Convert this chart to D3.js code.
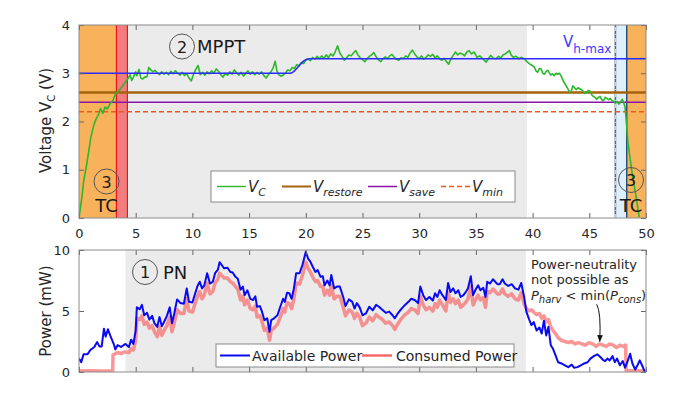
<!DOCTYPE html>
<html>
<head>
  <meta charset="utf-8">
  <script src="https://cdn.jsdelivr.net/npm/d3@7"></script>
  <style>
    body { margin: 0; background: #fff; font-family: 'DejaVu Sans', sans-serif; }
    .tick text { fill: #262626; font-size: 13px; font-family: 'DejaVu Sans', sans-serif; }
    .tick line { stroke: #666; }
    .box { fill: none; stroke: #8a8a8a; stroke-width: 1; }
    .ylabel { font-size: 15px; fill: #262626; text-anchor: middle; }
    .tag { font-size: 18px; fill: #1a1a1a; }
    .tagnum { font-size: 16px; fill: #1a1a1a; text-anchor: middle; }
    .tagring { fill: none; stroke: #555; stroke-width: 1; }
    .legend-box { fill: #fff; stroke: #8a8a8a; }
    .legtext { font-size: 14px; fill: #262626; }
  </style>
</head>
<body>
<script>
// time axis ticks (both panels) and y ticks
var xTicks = [0, 5, 10, 15, 20, 25, 30, 35, 40, 45, 50]
var vTicks = [0, 1, 2, 3, 4]
var pTicks = [0, 5, 10]

// thresholds (V)
var vRestore = 2.6
var vSave = 2.4
var vMin = 2.2

// V_h-max trajectory [t, V]
var hmaxData = [[0, 3], [18.6, 3], [18.9, 3.03], [19.2, 3.1], [19.5, 3.18], [19.8, 3.25], [20.1, 3.29], [20.4, 3.3], [50, 3.3]]

// capacitor voltage V_C [t, V]
var vcData = [[0,0],[0.25,0.42],[0.4,0.75],[0.65,1.07],[0.85,1.37],[1.05,1.68],[1.3,1.92],[1.5,2.05],[1.75,2.16],[1.9,2.27],[2.1,2.17],[2.3,2.3],[2.5,2.26],[2.75,2.37],[3.0,2.44],[3.2,2.56],[3.4,2.61],[3.65,2.68],[3.9,2.75],[4.1,2.82],[4.3,2.88],[4.5,2.97],[4.65,2.85],[4.8,2.92],[5.0,3.03],[5.1,2.95],[5.3,3.08],[5.45,2.9],[5.6,2.88],[5.8,2.92],[6.0,2.93],[6.15,3.12],[6.3,3.08],[6.5,3.03],[6.7,3.06],[6.9,3.01],[7.1,2.97],[7.3,3.03],[7.5,2.98],[7.7,3.02],[7.9,2.97],[8.1,3.04],[8.3,2.99],[8.5,3.05],[8.7,3.0],[8.9,2.96],[9.1,3.02],[9.3,2.95],[9.5,2.99],[9.7,2.9],[9.9,2.84],[10.1,2.98],[10.3,3.08],[10.5,3.16],[10.7,2.97],[10.9,3.02],[11.1,2.96],[11.3,3.03],[11.5,2.99],[11.7,3.05],[11.9,3.0],[12.1,3.09],[12.3,3.04],[12.5,2.97],[12.7,2.92],[12.9,3.0],[13.1,2.96],[13.3,3.03],[13.5,2.98],[13.7,3.07],[13.9,3.01],[14.1,2.96],[14.3,3.02],[14.5,2.94],[14.7,3.0],[14.9,3.05],[15.1,2.98],[15.3,3.03],[15.5,2.97],[15.7,3.02],[15.9,2.98],[16.1,3.03],[16.3,2.95],[16.5,2.9],[16.7,2.97],[16.9,3.02],[17.1,3.1],[17.3,3.25],[17.45,3.05],[17.6,2.97],[17.8,2.94],[18.0,2.96],[18.2,3.0],[18.4,3.07],[18.6,3.05],[18.8,3.12],[19.0,3.1],[19.2,3.18],[19.4,3.15],[19.6,3.22],[19.8,3.2],[20.0,3.27],[20.2,3.3],[20.4,3.26],[20.6,3.33],[20.8,3.29],[21.0,3.35],[21.2,3.3],[21.4,3.36],[21.6,3.31],[21.8,3.38],[22.0,3.33],[22.2,3.4],[22.4,3.36],[22.6,3.45],[22.8,3.57],[23.0,3.42],[23.2,3.35],[23.4,3.27],[23.6,3.32],[23.8,3.38],[24.0,3.36],[24.2,3.42],[24.4,3.47],[24.6,3.38],[24.8,3.32],[25.0,3.28],[25.2,3.24],[25.4,3.3],[25.6,3.35],[25.8,3.38],[26.0,3.43],[26.2,3.34],[26.4,3.28],[26.6,3.24],[26.8,3.3],[27.0,3.34],[27.2,3.3],[27.4,3.36],[27.6,3.39],[27.8,3.33],[28.0,3.29],[28.2,3.27],[28.4,3.32],[28.6,3.3],[28.8,3.36],[29.0,3.33],[29.2,3.42],[29.4,3.48],[29.6,3.4],[29.8,3.34],[30.0,3.3],[30.2,3.36],[30.4,3.29],[30.6,3.33],[30.8,3.38],[31.0,3.35],[31.2,3.39],[31.4,3.32],[31.6,3.36],[31.8,3.3],[32.0,3.27],[32.2,3.31],[32.4,3.24],[32.6,3.19],[32.8,3.3],[33.0,3.37],[33.2,3.44],[33.4,3.38],[33.6,3.42],[33.8,3.4],[34.0,3.36],[34.2,3.44],[34.4,3.47],[34.6,3.4],[34.85,3.44],[35.1,3.33],[35.35,3.36],[35.6,3.3],[35.9,3.23],[36.1,3.3],[36.3,3.37],[36.55,3.31],[36.75,3.3],[37.0,3.35],[37.2,3.32],[37.4,3.38],[37.65,3.41],[37.95,3.47],[38.1,3.38],[38.3,3.33],[38.55,3.35],[38.8,3.3],[39.0,3.33],[39.25,3.3],[39.5,3.24],[39.7,3.2],[39.95,3.16],[40.15,3.13],[40.3,3.05],[40.45,3.02],[40.6,3.1],[40.75,3.09],[40.9,3.0],[41.05,2.98],[41.2,3.04],[41.35,3.06],[41.6,2.96],[41.75,2.99],[41.9,2.95],[42.05,3.0],[42.2,2.98],[42.35,3.0],[42.5,2.95],[42.7,2.84],[42.85,2.78],[43.0,2.72],[43.15,2.66],[43.3,2.6],[43.4,2.62],[43.55,2.74],[43.7,2.7],[43.85,2.66],[44.0,2.7],[44.15,2.68],[44.3,2.66],[44.45,2.63],[44.6,2.58],[44.75,2.6],[44.9,2.64],[45.05,2.63],[45.2,2.56],[45.35,2.52],[45.5,2.5],[45.65,2.46],[45.8,2.5],[45.95,2.52],[46.1,2.45],[46.25,2.43],[46.4,2.5],[46.55,2.48],[46.7,2.45],[46.85,2.48],[47.0,2.43],[47.15,2.42],[47.3,2.38],[47.45,2.41],[47.6,2.36],[47.75,2.4],[47.9,2.46],[48.05,2.38],[48.15,2.3],[48.22,2.13],[48.3,1.9],[48.4,1.58],[48.6,1.23],[48.8,0.89],[49.1,0.48],[49.4,0.02]]

// available (harvested) power [t, mW]
var availPower = [[0,1.1],[0.2,0.8],[0.4,1.45],[0.75,1.45],[1.0,1.8],[1.35,2.05],[1.6,2.45],[1.8,2.1],[2.0,2.1],[2.2,3.55],[2.35,2.9],[2.55,3.5],[2.75,3.0],[3.1,2.2],[3.2,1.85],[3.4,2.2],[3.7,2.05],[4.1,2.3],[4.4,2.05],[4.6,2.65],[4.8,2.3],[5.0,3.4],[5.1,5.3],[5.35,5.15],[5.55,5.5],[5.75,4.65],[6.0,4.85],[6.2,4.3],[6.45,4.6],[6.65,4.0],[6.9,3.7],[7.1,4.5],[7.3,3.75],[7.5,4.1],[7.75,4.6],[8.0,5.3],[8.2,4.0],[8.4,4.8],[8.65,5.95],[8.95,5.65],[9.25,5.6],[9.5,6.85],[9.7,5.75],[10.0,5.7],[10.2,6.3],[10.45,7.05],[10.65,7.4],[10.85,6.85],[11.05,7.1],[11.3,8.1],[11.55,7.25],[11.8,7.4],[12.0,8.1],[12.25,8.4],[12.4,9.0],[12.6,8.75],[12.8,8.5],[13.1,8.55],[13.35,8.2],[13.55,8.15],[13.8,7.8],[14.0,7.65],[14.25,6.75],[14.45,7.0],[14.6,6.3],[14.85,6.7],[15.1,6.0],[15.35,5.9],[15.55,6.2],[15.7,5.35],[15.95,5.4],[16.15,4.9],[16.35,4.25],[16.6,4.4],[16.8,3.3],[16.95,4.25],[17.2,4.4],[17.5,4.65],[17.75,5.35],[18.0,6.0],[18.15,5.75],[18.35,6.5],[18.55,6.45],[18.75,6.0],[18.95,6.85],[19.15,8.1],[19.45,8.1],[19.7,8.75],[20.0,9.85],[20.2,9.3],[20.4,9.05],[20.6,8.65],[20.85,8.2],[21.05,8.35],[21.3,7.8],[21.5,7.85],[21.65,7.1],[21.9,7.5],[22.1,7.1],[22.25,7.95],[22.5,6.85],[22.75,7.0],[23.0,7.0],[23.3,6.15],[23.5,5.4],[23.8,5.95],[24.1,5.75],[24.3,5.2],[24.5,5.65],[24.75,5.3],[25.0,4.65],[25.3,4.8],[25.6,5.35],[25.9,5.05],[26.2,5.5],[26.45,5.35],[26.75,5.1],[27.05,4.85],[27.35,4.95],[27.65,4.65],[27.85,4.4],[28.15,4.85],[28.45,5.2],[28.75,5.5],[29.05,5.75],[29.3,6.0],[29.6,5.9],[29.9,5.65],[30.1,7.0],[30.35,6.3],[30.6,5.9],[30.9,6.15],[31.2,5.85],[31.4,6.45],[31.6,6.15],[31.8,6.7],[32.05,6.3],[32.35,5.9],[32.55,7.3],[32.75,6.55],[33.0,6.85],[33.2,6.45],[33.45,6.7],[33.65,6.15],[33.9,6.3],[34.1,6.55],[34.3,6.85],[34.55,7.85],[34.75,6.3],[35.0,6.8],[35.2,7.1],[35.4,6.7],[35.65,6.9],[35.85,6.15],[36.0,7.4],[36.25,7.25],[36.5,7.6],[36.7,7.4],[36.9,7.2],[37.1,7.2],[37.35,7.6],[37.55,7.25],[37.85,7.05],[38.15,7.2],[38.45,6.85],[38.75,6.75],[39.0,7.3],[39.25,6.15],[39.45,4.95],[39.7,4.3],[39.9,3.85],[40.1,4.1],[40.35,3.4],[40.6,3.65],[40.8,3.15],[41.0,4.2],[41.2,3.0],[41.4,3.7],[41.6,2.2],[41.8,1.9],[42.05,1.3],[42.25,0.8],[42.55,0.7],[42.85,0.55],[43.15,0.4],[43.45,0.6],[43.65,0.35],[43.95,0.4],[44.25,0.55],[44.55,0.7],[44.85,0.8],[45.1,1.1],[45.4,1.3],[45.7,1.45],[45.95,1.25],[46.2,1.0],[46.4,0.9],[46.6,1.1],[46.8,0.95],[47.05,1.3],[47.25,0.8],[47.45,1.1],[47.7,0.55],[47.95,0.9],[48.15,0.35],[48.35,0.8],[48.6,1.5],[48.8,0.7],[49.05,0.2],[49.25,0.55],[49.45,0.95],[49.7,0.45],[49.9,0.0]]

// consumed power [t, mW]
var consPower = [[0,0.08],[1,0.1],[2,0.08],[2.97,0.1],[3.0,1.4],[3.2,1.5],[3.4,1.6],[3.7,1.5],[4.0,1.65],[4.4,1.6],[4.6,1.9],[4.8,1.8],[5.0,2.6],[5.1,4.4],[5.35,4.3],[5.55,4.6],[5.75,3.9],[6.0,4.1],[6.2,3.6],[6.45,3.8],[6.65,3.3],[6.9,2.9],[7.1,3.7],[7.3,3.0],[7.5,3.4],[7.75,3.8],[8.0,4.5],[8.2,3.3],[8.4,4.0],[8.65,5.1],[8.95,4.8],[9.25,4.8],[9.5,6.0],[9.7,5.0],[10.0,4.9],[10.2,5.5],[10.45,6.2],[10.65,6.6],[10.85,6.0],[11.05,6.3],[11.3,7.3],[11.55,6.4],[11.8,6.6],[12.0,7.3],[12.25,7.6],[12.4,8.1],[12.6,7.9],[12.8,7.7],[13.1,7.7],[13.35,7.4],[13.55,7.3],[13.8,7.0],[14.0,6.8],[14.25,5.9],[14.45,6.2],[14.6,5.5],[14.85,5.9],[15.1,5.2],[15.35,5.1],[15.55,5.4],[15.7,4.5],[15.95,4.6],[16.15,4.1],[16.35,3.4],[16.6,3.6],[16.8,2.6],[16.95,3.4],[17.2,3.6],[17.5,3.9],[17.75,4.5],[18.0,5.2],[18.15,4.9],[18.35,5.7],[18.55,5.6],[18.75,5.2],[18.95,6.0],[19.15,7.3],[19.45,7.2],[19.7,7.9],[20.0,9.0],[20.2,8.5],[20.4,8.2],[20.6,7.8],[20.85,7.4],[21.05,7.5],[21.3,7.0],[21.5,7.0],[21.65,6.3],[21.9,6.7],[22.1,6.3],[22.25,7.1],[22.5,6.0],[22.75,6.2],[23.0,6.2],[23.3,5.3],[23.5,4.6],[23.8,5.1],[24.1,4.9],[24.3,4.4],[24.5,4.8],[24.75,4.5],[25.0,3.8],[25.3,4.0],[25.6,4.5],[25.9,4.2],[26.2,4.7],[26.45,4.5],[26.75,4.3],[27.05,4.0],[27.35,4.1],[27.65,3.8],[27.85,3.5],[28.15,4.0],[28.45,4.4],[28.75,4.7],[29.05,4.9],[29.3,5.2],[29.6,5.1],[29.9,4.8],[30.1,6.2],[30.35,5.5],[30.6,5.1],[30.9,5.3],[31.2,5.0],[31.4,5.6],[31.6,5.3],[31.8,5.9],[32.05,5.5],[32.35,5.0],[32.55,6.5],[32.75,5.7],[33.0,6.0],[33.2,5.6],[33.45,5.9],[33.65,5.3],[33.9,5.5],[34.1,5.7],[34.3,6.0],[34.55,7.0],[34.75,5.5],[35.0,6.0],[35.2,6.3],[35.4,5.9],[35.65,6.1],[35.85,5.3],[36.0,6.6],[36.25,6.5],[36.5,6.8],[36.7,6.6],[36.9,6.4],[37.1,6.4],[37.35,6.8],[37.55,6.4],[37.85,6.2],[38.15,6.4],[38.45,6.0],[38.75,5.9],[39.0,6.5],[39.25,5.6],[39.45,5.2],[39.7,5.0],[39.9,5.1],[40.1,4.9],[40.35,4.7],[40.6,4.8],[40.8,4.4],[41.0,4.6],[41.2,4.1],[41.4,4.3],[41.6,3.7],[41.8,3.4],[42.05,3.1],[42.25,2.8],[42.55,2.6],[42.85,2.5],[43.15,2.4],[43.45,2.5],[43.75,2.3],[44.05,2.4],[44.35,2.3],[44.65,2.2],[44.95,2.4],[45.3,2.3],[45.6,2.1],[45.9,2.3],[46.2,2.2],[46.5,2.1],[46.8,2.3],[47.1,2.2],[47.4,2.0],[47.7,2.2],[48.0,2.1],[48.2,2.2],[48.25,0.1],[49,0.1],[50,0.08]]

// phase boundaries (t)
var tcEnd = 3.3, pnStartTop = 4.27, pnEnd = 39.5, pnStartBottom = 4.1, pnEndBottom = 39.4
var dischargeStart = 47.3, tcStart = 48.3

var width = 688, height = 396
var svg = d3.select("body").append("svg")
  .attr("width", width)
  .attr("height", height)

var x = d3.scaleLinear().domain([0, 50]).range([79, 646])
var yV = d3.scaleLinear().domain([0, 4]).range([218, 25])
var yP = d3.scaleLinear().domain([0, 10]).range([372, 250])
var intFmt = d3.format("d")

var defs = svg.append("defs")
defs.append("clipPath").attr("id", "clipTop").append("rect")
  .attr("x", x(0)).attr("y", yV(4)).attr("width", x(50) - x(0)).attr("height", yV(0) - yV(4))
defs.append("clipPath").attr("id", "clipBot").append("rect")
  .attr("x", x(0)).attr("y", yP(10)).attr("width", x(50) - x(0)).attr("height", yP(0) - yP(10))
defs.append("marker").attr("id", "arrow")
  .attr("viewBox", "0 0 10 10").attr("refX", 9).attr("refY", 5)
  .attr("markerWidth", 7).attr("markerHeight", 7).attr("orient", "auto")
  .append("path").attr("d", "M0,1 L10,5 L0,9 z").attr("fill", "#111")

// ---------- top panel ----------
var topPanel = svg.append("g")

function band(g, y, t0, t1, color) {
  g.append("rect")
    .attr("x", x(t0)).attr("y", y.range()[1])
    .attr("width", x(t1) - x(t0)).attr("height", y.range()[0] - y.range()[1])
    .attr("fill", color)
}
band(topPanel, yV, 0, tcEnd, "#f9b25c")
band(topPanel, yV, tcEnd, pnStartTop, "#f37c7c")
band(topPanel, yV, pnStartTop, pnEnd, "#ebebeb")
band(topPanel, yV, dischargeStart, tcStart, "#deeefa")
band(topPanel, yV, tcStart, 50, "#f9b25c")

function vline(g, y, t, color, w, dash) {
  var l = g.append("line")
    .attr("x1", x(t)).attr("x2", x(t))
    .attr("y1", y.range()[0]).attr("y2", y.range()[1])
    .attr("stroke", color).attr("stroke-width", w)
  if (dash) l.attr("stroke-dasharray", dash)
}
vline(topPanel, yV, tcEnd, "#e8141e", 1.2)
vline(topPanel, yV, pnStartTop, "#e8141e", 1.2)
vline(topPanel, yV, dischargeStart, "#506a80", 1.6)
vline(topPanel, yV, dischargeStart, "#ffffff", 0.8, "4,3,1,3")
vline(topPanel, yV, tcStart, "#204e78", 1.4)

var clipTop = topPanel.append("g").attr("clip-path", "url(#clipTop)")

function hline(v, color, w, dash) {
  var l = clipTop.append("line")
    .attr("x1", x(0)).attr("x2", x(50))
    .attr("y1", yV(v)).attr("y2", yV(v))
    .attr("stroke", color).attr("stroke-width", w)
  if (dash) l.attr("stroke-dasharray", dash)
}
hline(vRestore, "#a5630d", 2.6)
hline(vSave, "#8a14a8", 1.5)
hline(vMin, "#ea5a1c", 1.5, "5,3")

var lineV = d3.line().x(function(d) { return x(d[0]) }).y(function(d) { return yV(d[1]) })

clipTop.append("path").datum(vcData)
  .attr("d", lineV).attr("fill", "none")
  .attr("stroke", "#2cb82c").attr("stroke-width", 1.6).attr("stroke-linejoin", "round")

var lineH = d3.line().curve(d3.curveMonotoneX).x(function(d) { return x(d[0]) }).y(function(d) { return yV(d[1]) })
clipTop.append("path").datum(hmaxData)
  .attr("d", lineH).attr("fill", "none")
  .attr("stroke", "#2b2bff").attr("stroke-width", 1.6)

// axes
topPanel.append("g").attr("transform", "translate(0," + yV(0) + ")")
  .call(d3.axisBottom(x).tickValues(xTicks).tickFormat(intFmt).tickSizeInner(-5).tickSizeOuter(0).tickPadding(11))
topPanel.append("g").attr("transform", "translate(0," + yV(4) + ")")
  .call(d3.axisTop(x).tickValues(xTicks).tickSizeInner(-5).tickSizeOuter(0).tickFormat(""))
topPanel.append("g").attr("transform", "translate(" + x(0) + ",0)")
  .call(d3.axisLeft(yV).tickValues(vTicks).tickFormat(intFmt).tickSizeInner(-5).tickSizeOuter(0).tickPadding(9))
topPanel.append("g").attr("transform", "translate(" + x(50) + ",0)")
  .call(d3.axisRight(yV).tickValues(vTicks).tickSizeInner(-5).tickSizeOuter(0).tickFormat(""))
topPanel.selectAll(".domain").remove()
topPanel.append("rect").attr("class", "box")
  .attr("x", x(0)).attr("y", yV(4)).attr("width", x(50) - x(0)).attr("height", yV(0) - yV(4))

var yl = topPanel.append("text").attr("class", "ylabel")
  .attr("transform", "translate(51," + (yV(2) - 1) + ") rotate(-90)")
yl.append("tspan").text("Voltage V")
yl.append("tspan").attr("dy", 4).style("font-size", "10px").text("C")
yl.append("tspan").attr("dy", -4).text(" (V)")

// V_h-max label
var hl = topPanel.append("text").attr("x", 563).attr("y", 47).attr("fill", "#3a3aff").style("font-size", "15px")
hl.append("tspan").text("V")
hl.append("tspan").attr("dy", 6).style("font-size", "12px").text("h-max")

// phase tags
function tag(g, cx, cy, num, label, lx, ly, anchor) {
  g.append("circle").attr("class", "tagring").attr("cx", cx).attr("cy", cy).attr("r", 12.5)
  g.append("text").attr("class", "tagnum").attr("x", cx).attr("y", cy + 6).text(num)
  g.append("text").attr("class", "tag").attr("x", lx).attr("y", ly)
    .attr("text-anchor", anchor || "start").text(label)
}
tag(topPanel, 182, 46.5, "2", "MPPT", 197, 53)
tag(topPanel, 106.5, 181.5, "3", "TC", 106.5, 212, "middle")
tag(topPanel, 631, 180, "3", "TC", 631, 212, "middle")

// legend top
var lg = topPanel.append("g")
lg.append("rect").attr("class", "legend-box").attr("x", 211).attr("y", 171).attr("width", 304).attr("height", 31)
var legTop = [
  { name: "C", color: "#2cb82c", w: 1.4, dash: null, x0: 217 },
  { name: "restore", color: "#a5630d", w: 2, dash: null, x0: 282 },
  { name: "save", color: "#8a14a8", w: 1.5, dash: null, x0: 368 },
  { name: "min", color: "#ea5a1c", w: 1.5, dash: "5,3", x0: 441 }
]
legTop.forEach(function(d) {
  var l = lg.append("line").attr("x1", d.x0).attr("x2", d.x0 + 29).attr("y1", 186.5).attr("y2", 186.5)
    .attr("stroke", d.color).attr("stroke-width", d.w)
  if (d.dash) l.attr("stroke-dasharray", d.dash)
  var t = lg.append("text").attr("class", "legtext").attr("x", d.x0 + 31).attr("y", 191.5)
    .style("font-style", "italic")
  t.append("tspan").style("font-size", "15px").text("V")
  t.append("tspan").attr("dy", 4).style("font-size", "11px").text(d.name)
})

// ---------- bottom panel ----------
var botPanel = svg.append("g")
band(botPanel, yP, pnStartBottom, pnEndBottom, "#ebebeb")

var clipBot = botPanel.append("g").attr("clip-path", "url(#clipBot)")
var lineP = d3.line().x(function(d) { return x(d[0]) }).y(function(d) { return yP(d[1]) })

clipBot.append("path").datum(consPower)
  .attr("d", lineP).attr("fill", "none")
  .attr("stroke", "#f86a6a").attr("stroke-opacity", 0.7).attr("stroke-width", 3.5).attr("stroke-linejoin", "round")
clipBot.append("path").datum(availPower)
  .attr("d", lineP).attr("fill", "none")
  .attr("stroke", "#0a0af0").attr("stroke-width", 2).attr("stroke-linejoin", "round")

botPanel.append("g").attr("transform", "translate(0," + yP(0) + ")")
  .call(d3.axisBottom(x).tickValues(xTicks).tickSizeInner(-5).tickSizeOuter(0).tickFormat(""))
botPanel.append("g").attr("transform", "translate(0," + yP(10) + ")")
  .call(d3.axisTop(x).tickValues(xTicks).tickSizeInner(-5).tickSizeOuter(0).tickFormat(""))
botPanel.append("g").attr("transform", "translate(" + x(0) + ",0)")
  .call(d3.axisLeft(yP).tickValues(pTicks).tickFormat(intFmt).tickSizeInner(-5).tickSizeOuter(0).tickPadding(9))
botPanel.append("g").attr("transform", "translate(" + x(50) + ",0)")
  .call(d3.axisRight(yP).tickValues(pTicks).tickSizeInner(-5).tickSizeOuter(0).tickFormat(""))
botPanel.selectAll(".domain").remove()
botPanel.append("rect").attr("class", "box")
  .attr("x", x(0)).attr("y", yP(10)).attr("width", x(50) - x(0)).attr("height", yP(0) - yP(10))

botPanel.append("text").attr("class", "ylabel")
  .attr("transform", "translate(51," + yP(5) + ") rotate(-90)")
  .text("Power (mW)")

tag(botPanel, 145, 272, "1", "PN", 163, 279)

// legend bottom
var lb = botPanel.append("g")
lb.append("rect").attr("class", "legend-box").attr("x", 216).attr("y", 344).attr("width", 298).attr("height", 23)
lb.append("line").attr("x1", 220).attr("x2", 250).attr("y1", 355.5).attr("y2", 355.5)
  .attr("stroke", "#0a0af0").attr("stroke-width", 2)
lb.append("text").attr("class", "legtext").attr("x", 252).attr("y", 360.5).text("Available Power")
lb.append("line").attr("x1", 362).attr("x2", 392).attr("y1", 355.5).attr("y2", 355.5)
  .attr("stroke", "#f86a6a").attr("stroke-width", 2.5)
lb.append("text").attr("class", "legtext").attr("x", 396).attr("y", 360.5).text("Consumed Power")

// annotation
var an = botPanel.append("text").attr("class", "legtext").style("font-size", "13px")
an.append("tspan").attr("x", 531).attr("y", 269).text("Power-neutrality")
an.append("tspan").attr("x", 531).attr("y", 284).text("not possible as")
var l3 = an.append("tspan").attr("x", 531).attr("y", 300)
l3.append("tspan").style("font-style", "italic").text("P")
l3.append("tspan").attr("dy", 3).style("font-style", "italic").style("font-size", "10px").text("harv")
l3.append("tspan").attr("dy", -3).text(" < min(")
l3.append("tspan").style("font-style", "italic").text("P")
l3.append("tspan").attr("dy", 3).style("font-style", "italic").style("font-size", "10px").text("cons")
l3.append("tspan").attr("dy", -3).text(")")

var ap = d3.path()
ap.moveTo(x(45.65), yP(5.55))
ap.quadraticCurveTo(x(46.05), yP(4.9), x(45.92), yP(2.5))
botPanel.append("path").attr("d", ap.toString()).attr("fill", "none")
  .attr("stroke", "#111").attr("stroke-width", 1).attr("marker-end", "url(#arrow)")
</script>
</body>
</html>
